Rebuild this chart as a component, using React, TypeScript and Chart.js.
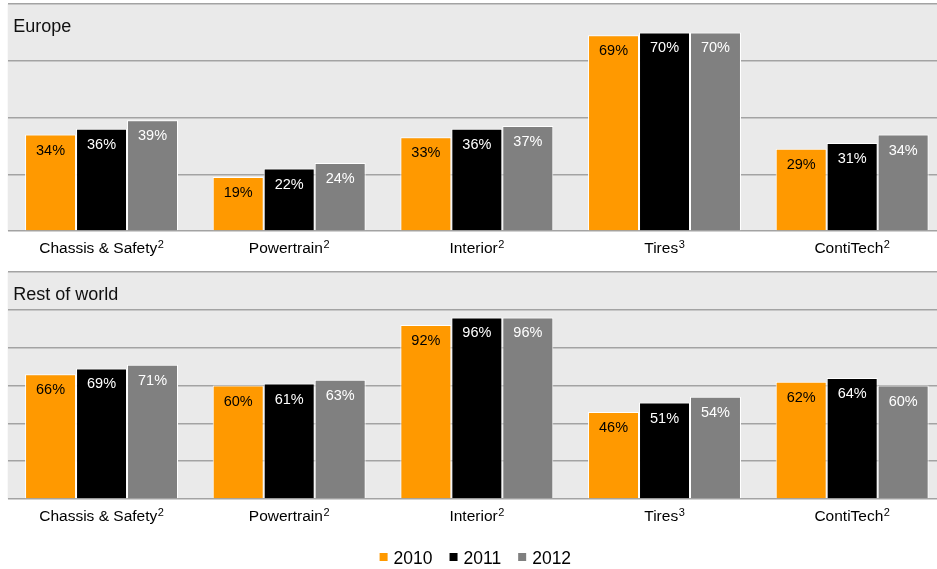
import React, { useEffect, useRef } from 'react';
import { Chart, registerables } from 'chart.js';

Chart.register(...registerables);

// Divisions, their footnote markers and the reporting years
const categories = ['Chassis & Safety', 'Powertrain', 'Interior', 'Tires', 'ContiTech'];
const footnotes = ['2', '2', '2', '3', '2'];
const years = ['2010', '2011', '2012'];

// Share of sales, Europe (%)
const europe2010 = [34, 19, 33, 69, 29];
const europe2011 = [36, 22, 36, 70, 31];
const europe2012 = [39, 24, 37, 70, 34];

// Share of sales, rest of world (%)
const world2010 = [66, 60, 92, 46, 62];
const world2011 = [69, 61, 96, 51, 64];
const world2012 = [71, 63, 96, 54, 60];

// Value axis ranges (gridline every 20 points)
const europeAxisMax = 80;
const worldAxisMax = 120;
const axisStep = 20;

const barColors = ['#FF9900', '#000000', '#808080'];
const valueTextColors = ['#000000', '#FFFFFF', '#FFFFFF'];
const FONT = '"Liberation Sans", Arial, Helvetica, sans-serif';

const panelBackground = {
  id: 'panelBackground',
  beforeDraw(chart: any) {
    const { ctx, chartArea } = chart;
    ctx.save();
    ctx.fillStyle = '#EAEAEA';
    ctx.fillRect(chartArea.left, chartArea.top, chartArea.right - chartArea.left, chartArea.bottom - chartArea.top);
    ctx.restore();
  },
};

const panelTitle = {
  id: 'panelTitle',
  afterDraw(chart: any, _args: any, opts: any) {
    const { ctx, chartArea } = chart;
    ctx.save();
    ctx.font = `18px ${FONT}`;
    ctx.fillStyle = '#111111';
    ctx.textAlign = 'left';
    ctx.textBaseline = 'alphabetic';
    ctx.fillText(opts.text, chartArea.left + 5.6, chartArea.top + 27.5);
    ctx.restore();
  },
};

// Category names under each group, with a raised footnote digit
const categoryLabels = {
  id: 'categoryLabels',
  afterDraw(chart: any) {
    const { ctx, chartArea } = chart;
    const xScale = chart.scales.x;
    const mainFont = `15.5px ${FONT}`;
    const supFont = `11px ${FONT}`;
    const baseline = chartArea.bottom + 22;
    ctx.save();
    ctx.fillStyle = '#000000';
    ctx.textBaseline = 'alphabetic';
    ctx.textAlign = 'left';
    chart.data.labels.forEach((name: string, i: number) => {
      ctx.font = mainFont;
      const wMain = ctx.measureText(name).width;
      ctx.font = supFont;
      const wSup = ctx.measureText(footnotes[i]).width;
      const total = wMain + 0.5 + wSup;
      const cx = xScale.getPixelForValue(i);
      const x0 = cx - total / 2;
      ctx.font = mainFont;
      ctx.fillText(name, x0, baseline);
      ctx.font = supFont;
      ctx.fillText(footnotes[i], x0 + wMain + 0.5, baseline - 5.5);
    });
    ctx.restore();
  },
};

const barValues = {
  id: 'barValues',
  afterDatasetsDraw(chart: any) {
    const { ctx } = chart;
    ctx.save();
    ctx.font = `14.5px ${FONT}`;
    ctx.textAlign = 'center';
    ctx.textBaseline = 'alphabetic';
    chart.data.datasets.forEach((ds: any, di: number) => {
      const meta = chart.getDatasetMeta(di);
      ctx.fillStyle = valueTextColors[di];
      meta.data.forEach((bar: any, i: number) => {
        ctx.fillText(`${ds.data[i]}%`, bar.x, bar.y + 20);
      });
    });
    ctx.restore();
  },
};

const yearLegend = {
  id: 'yearLegend',
  afterDraw(chart: any, _args: any, opts: any) {
    if (!opts.show) return;
    const { ctx, chartArea } = chart;
    ctx.save();
    ctx.font = `17.5px ${FONT}`;
    ctx.textBaseline = 'alphabetic';
    ctx.textAlign = 'left';
    const box = 8;
    const boxGap = 6;
    const itemGap = 17;
    const items = chart.data.datasets.map((ds: any) => ({
      label: ds.label,
      color: ds.backgroundColor,
      w: ctx.measureText(ds.label).width,
    }));
    const total = items.reduce((s: number, it: any) => s + box + boxGap + it.w, 0) + itemGap * (items.length - 1);
    let x = (chartArea.left + chartArea.right) / 2 - total / 2 - 1.5;
    const baseline = opts.baseline;
    items.forEach((it: any) => {
      ctx.fillStyle = it.color;
      ctx.fillRect(x, baseline - 11, box, box);
      ctx.fillStyle = '#000000';
      ctx.fillText(it.label, x + box + boxGap, baseline);
      x += box + boxGap + it.w + itemGap;
    });
    ctx.restore();
  },
};

function buildConfig(
  series: number[][],
  axisMax: number,
  title: string,
  topPad: number,
  xAxisHeight: number,
  showLegend: boolean
): any {
  return {
    type: 'bar',
    data: {
      labels: categories,
      datasets: series.map((values, i) => ({
        label: years[i],
        data: values,
        backgroundColor: barColors[i],
        borderColor: '#FFFFFF',
        borderWidth: 1,
        categoryPercentage: 0.815,
        barPercentage: 1.0,
      })),
    },
    options: {
      responsive: false,
      animation: false,
      layout: { padding: { top: topPad, left: 7.7, right: 0, bottom: 0 } },
      plugins: {
        legend: { display: false },
        tooltip: { enabled: false },
        panelTitle: { text: title },
        yearLegend: { show: showLegend, baseline: 302 },
      },
      scales: {
        x: {
          grid: { display: false, drawTicks: false },
          border: { display: false },
          ticks: { display: false },
          afterFit: (scale: any) => {
            scale.height = xAxisHeight;
          },
        },
        y: {
          min: 0,
          max: axisMax,
          ticks: { display: false, stepSize: axisStep },
          grid: { color: '#A3A3A3', lineWidth: 1.5, drawTicks: false },
          border: { display: false },
          afterFit: (scale: any) => {
            scale.width = 0;
          },
        },
      },
    },
    plugins: [panelBackground, barValues, categoryLabels, panelTitle, yearLegend],
  };
}

export default function App() {
  const europeRef = useRef<HTMLCanvasElement>(null);
  const worldRef = useRef<HTMLCanvasElement>(null);

  useEffect(() => {
    const europe = new Chart(
      europeRef.current as HTMLCanvasElement,
      buildConfig([europe2010, europe2011, europe2012], europeAxisMax, 'Europe', 4, 31, false)
    );
    const world = new Chart(
      worldRef.current as HTMLCanvasElement,
      buildConfig([world2010, world2011, world2012], worldAxisMax, 'Rest of world', 10, 70, true)
    );
    return () => {
      europe.destroy();
      world.destroy();
    };
  }, []);

  return (
    <div
      style={{
        position: 'absolute',
        left: 0,
        top: 0,
        width: 937,
        height: 569,
        overflow: 'hidden',
        background: '#FFFFFF',
      }}
    >
      <canvas ref={europeRef} width={946} height={262} style={{ position: 'absolute', left: 0, top: 0 }} />
      <canvas ref={worldRef} width={946} height={307} style={{ position: 'absolute', left: 0, top: 262 }} />
    </div>
  );
}
